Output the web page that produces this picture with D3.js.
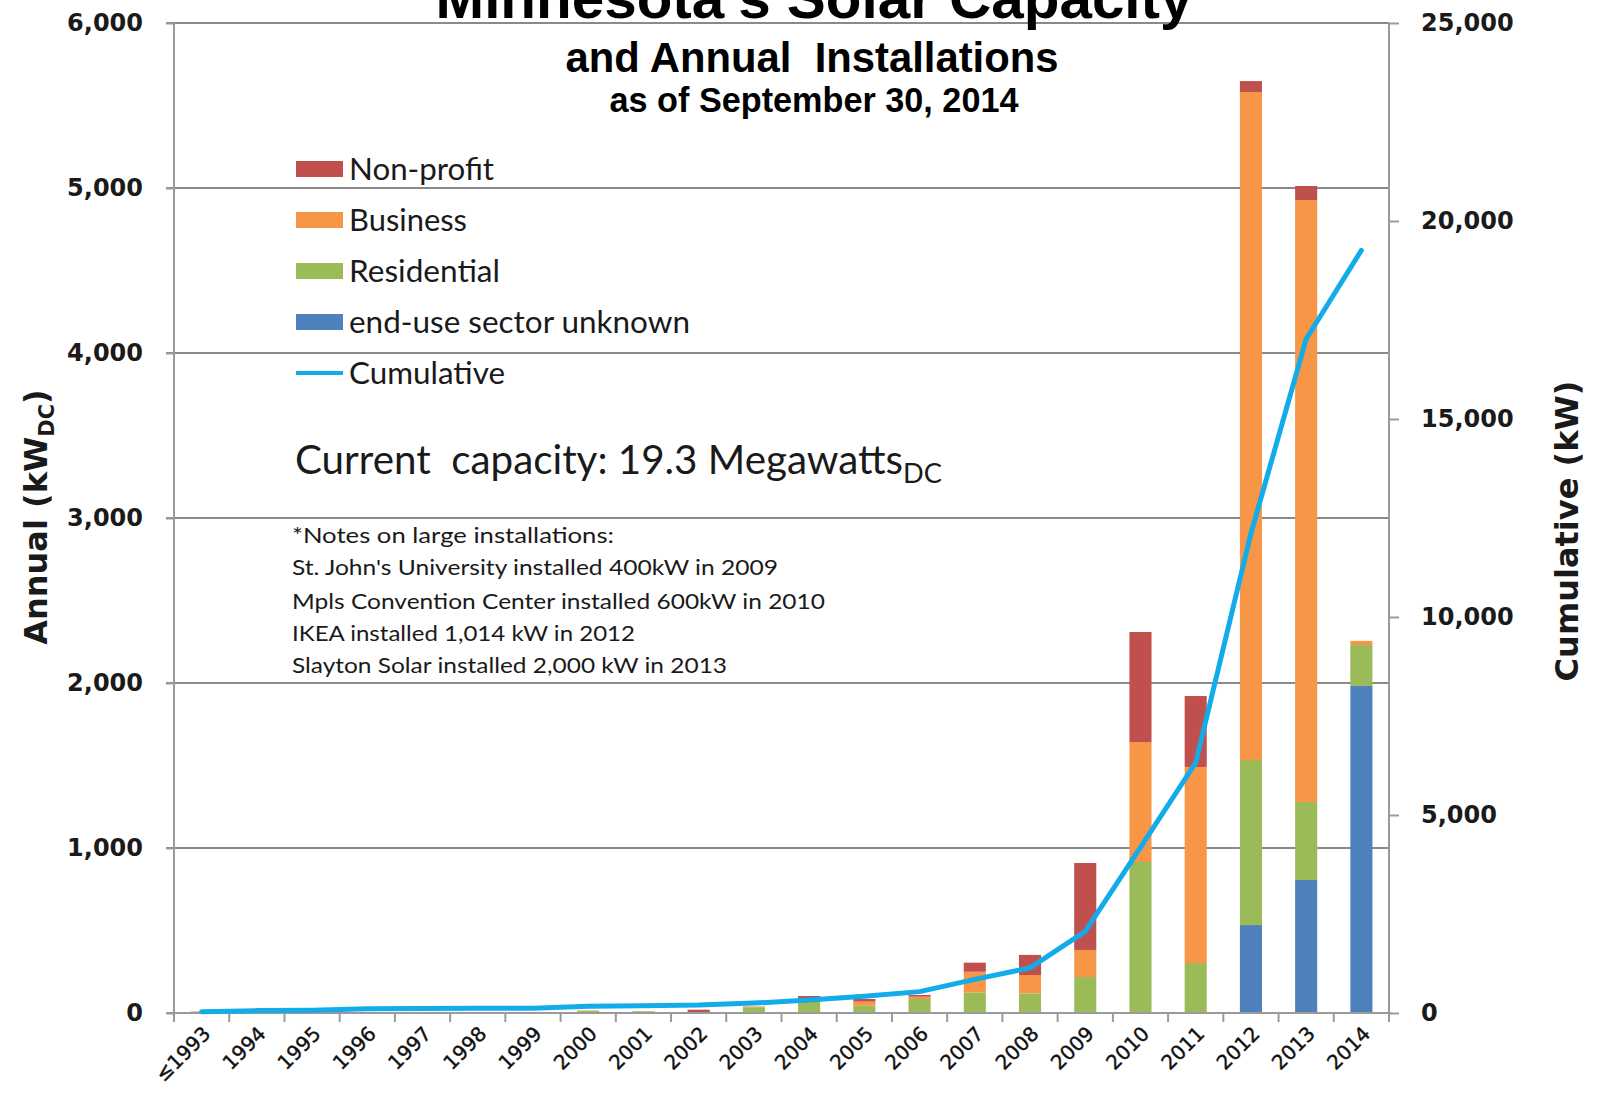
<!DOCTYPE html>
<html>
<head>
<meta charset="utf-8">
<script src="https://cdn.jsdelivr.net/npm/d3@7"></script>
<style>
  html, body { margin: 0; padding: 0; background: #ffffff; }
  svg { display: block; }
  text { white-space: pre; }
</style>
</head>
<body>
<svg id="chart" width="1605" height="1096"></svg>
<script>
// ---------------- DATA ----------------
const categories = ["≤1993","1994","1995","1996","1997","1998","1999","2000","2001","2002","2003","2004","2005","2006","2007","2008","2009","2010","2011","2012","2013","2014"];
const unknownSector = [0,0,0,0,0,0,0,0,0,0,0,0,0,0,0,0,0,0,0,533,806,1982];
const residential   = [0,0,0,0,0,0,0,12,10,0,35,67,44,85,125,119,218,915,303,1000,473,248];
const business      = [0,0,0,0,0,0,0,3,2,0,5,18,25,14,125,111,164,727,1188,4049,3648,25];
const nonprofit     = [8,0,0,0,0,0,0,0,0,20,0,18,16,10,55,122,527,667,430,66,85,0];
const cumulative    = [30,60,70,110,115,118,120,170,185,200,250,330,420,540,850,1140,2060,4180,6320,12110,17020,19260];
const leftTicks  = [0,1000,2000,3000,4000,5000,6000];
const rightTicks = [0,5000,10000,15000,20000,25000];
const seriesNames = ["end-use sector unknown","Residential","Business","Non-profit"];
const legendOrder = ["Non-profit","Business","Residential","end-use sector unknown","Cumulative"];
const notes = [
  "*Notes on large installations:",
  "St. John's University installed 400kW in 2009",
  "Mpls Convention Center installed 600kW in 2010",
  "IKEA installed 1,014 kW in 2012",
  "Slayton Solar installed 2,000 kW in 2013"
];

// ---------------- STYLE ----------------
const colors = {
  "end-use sector unknown": "#4F81BD",
  "Residential": "#9BBB59",
  "Business": "#F79646",
  "Non-profit": "#C0504D",
  "Cumulative": "#12ACEB"
};
const gridColor = "#8a8a8a";
const axisColor = "#9a9a9a";
const tickFont = "'DejaVu Sans', Verdana, sans-serif";
const bodyFont = "Lato, 'Open Sans', sans-serif";
const titleFont = "'Liberation Sans', Arial, sans-serif";

const svg = d3.select("#chart");
const L = 174, R = 1389, T = 23, B = 1013;

const x = d3.scaleBand().domain(categories).range([L, R]).paddingInner(0.6).paddingOuter(0.3);
const yL = d3.scaleLinear().domain([0, 6000]).range([B, T]);
const yR = d3.scaleLinear().domain([0, 25000]).range([B, T]);
const step = x.step();
const cx = d => x(d) + x.bandwidth() / 2;

// ---------------- GRID ----------------
svg.append("g").selectAll("line").data(leftTicks.filter(d => d > 0)).join("line")
  .attr("x1", L - 8).attr("x2", R).attr("y1", d => yL(d)).attr("y2", d => yL(d))
  .attr("stroke", gridColor).attr("stroke-width", 2);

// ---------------- BARS ----------------
const table = categories.map((c, i) => ({
  cat: c,
  "end-use sector unknown": unknownSector[i],
  "Residential": residential[i],
  "Business": business[i],
  "Non-profit": nonprofit[i]
}));
const stack = d3.stack().keys(seriesNames)(table);
svg.append("g").selectAll("g").data(stack).join("g")
  .attr("fill", s => colors[s.key])
  .selectAll("rect").data(s => s).join("rect")
  .attr("x", d => x(d.data.cat))
  .attr("width", x.bandwidth())
  .attr("y", d => yL(d[1]))
  .attr("height", d => Math.max(0, yL(d[0]) - yL(d[1])));

// ---------------- AXES ----------------
const axL = svg.append("g").attr("transform", `translate(${L},0)`)
  .call(d3.axisLeft(yL).tickValues(leftTicks).tickFormat(d3.format(",")).tickSize(8).tickPadding(23));
const axR = svg.append("g").attr("transform", `translate(${R},0)`)
  .call(d3.axisRight(yR).tickValues(rightTicks).tickFormat(d3.format(",")).tickSize(10).tickPadding(22));
[axL, axR].forEach(a => {
  a.select(".domain").attr("stroke", axisColor).attr("stroke-width", 2);
  a.selectAll(".tick line").attr("stroke", axisColor).attr("stroke-width", 2);
  a.selectAll(".tick text").attr("font-family", tickFont).attr("font-weight", "bold")
    .attr("font-size", 24).attr("fill", "#1a1a1a");
});
axL.select(".domain").attr("d", `M0,${T}V${B}`);
axR.select(".domain").attr("d", `M0,${T}V${B}`);

const axB = svg.append("g").attr("transform", `translate(0,${B})`)
  .call(d3.axisBottom(x).tickSize(0).tickFormat(d => d));
axB.select(".domain").attr("d", `M${L - 8},0H${R + 2}`).attr("stroke", axisColor).attr("stroke-width", 2);
axB.append("g").selectAll("line").data(d3.range(categories.length + 1)).join("line")
  .attr("x1", i => L + i * step).attr("x2", i => L + i * step)
  .attr("y1", 0).attr("y2", 9)
  .attr("stroke", axisColor).attr("stroke-width", 2);
axB.selectAll(".tick text")
  .attr("font-family", tickFont).attr("font-size", 20).attr("fill", "#111")
  .attr("stroke", "#111").attr("stroke-width", 0.4)
  .attr("text-anchor", "end").attr("dy", 0).attr("y", 0)
  .attr("transform", `translate(${x.bandwidth() / 2 - 1},22) rotate(-45)`);

// ---------------- CUMULATIVE LINE ----------------
const line = d3.line().x((d, i) => cx(categories[i])).y(d => yR(d));
svg.append("path").datum(cumulative)
  .attr("d", line).attr("fill", "none")
  .attr("stroke", colors["Cumulative"]).attr("stroke-width", 5)
  .attr("stroke-linejoin", "round").attr("stroke-linecap", "round");

// ---------------- TITLES ----------------
svg.append("text").attr("x", 814).attr("y", 18).attr("text-anchor", "middle")
  .attr("font-family", titleFont).attr("font-weight", "bold").attr("font-size", 58)
  .attr("textLength", 757).attr("lengthAdjust", "spacingAndGlyphs")
  .text("Minnesota's Solar Capacity");
svg.append("text").attr("x", 812).attr("y", 72).attr("text-anchor", "middle")
  .attr("font-family", titleFont).attr("font-weight", "bold").attr("font-size", 42)
  .attr("textLength", 493).attr("lengthAdjust", "spacingAndGlyphs")
  .text("and Annual  Installations");
svg.append("text").attr("x", 814).attr("y", 112).attr("text-anchor", "middle")
  .attr("font-family", titleFont).attr("font-weight", "bold").attr("font-size", 35)
  .attr("textLength", 409).attr("lengthAdjust", "spacingAndGlyphs")
  .text("as of September 30, 2014");

const lt = svg.append("text").attr("transform", "translate(47,517) rotate(-90)")
  .attr("text-anchor", "middle").attr("font-family", tickFont).attr("font-weight", "bold")
  .attr("font-size", 32).attr("fill", "#1a1a1a");
lt.append("tspan").text("Annual (kW");
lt.append("tspan").attr("font-size", 21).attr("dy", 7).text("DC");
lt.append("tspan").attr("dy", -7).text(")");

svg.append("text").attr("transform", "translate(1578,531) rotate(-90)")
  .attr("text-anchor", "middle").attr("font-family", tickFont).attr("font-weight", "bold")
  .attr("font-size", 32).attr("fill", "#1a1a1a").text("Cumulative (kW)");

// ---------------- LEGEND ----------------
const legendWidths = {"Non-profit":145,"Business":118,"Residential":151,"end-use sector unknown":341,"Cumulative":156};
const lg = svg.append("g");
legendOrder.forEach((name, i) => {
  const yc = 169 + i * 51;
  if (name === "Cumulative") {
    lg.append("line").attr("x1", 296).attr("x2", 343).attr("y1", yc).attr("y2", yc)
      .attr("stroke", colors[name]).attr("stroke-width", 4);
  } else {
    lg.append("rect").attr("x", 296).attr("y", yc - 8).attr("width", 47).attr("height", 16)
      .attr("fill", colors[name]);
  }
  lg.append("text").attr("x", 349).attr("y", yc + 11)
    .attr("font-family", bodyFont).attr("font-size", 31).attr("fill", "#1a1a1a")
    .attr("textLength", legendWidths[name]).attr("lengthAdjust", "spacingAndGlyphs")
    .text(name);
});

const cc = svg.append("text").attr("x", 295).attr("y", 474)
  .attr("font-family", bodyFont).attr("font-size", 40).attr("fill", "#1a1a1a")
  .attr("textLength", 647).attr("lengthAdjust", "spacingAndGlyphs");
cc.append("tspan").text("Current  capacity: 19.3 Megawatts");
cc.append("tspan").attr("font-size", 27).attr("dy", 9).text("DC");

const noteWidths = [322, 486, 533, 343, 435];
const noteY = [535, 567, 601, 633, 665];
notes.forEach((t, i) => {
  svg.append("text").attr("x", 292).attr("y", noteY[i] + 8)
    .attr("font-family", bodyFont).attr("font-size", 22).attr("fill", "#1a1a1a")
    .attr("textLength", noteWidths[i]).attr("lengthAdjust", "spacingAndGlyphs")
    .text(t);
});
</script>
</body>
</html>
